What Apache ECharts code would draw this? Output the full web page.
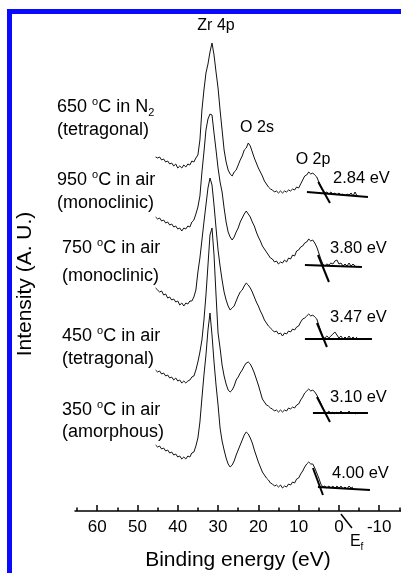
<!DOCTYPE html>
<html><head><meta charset="utf-8">
<script src="https://cdn.jsdelivr.net/npm/echarts@6/dist/echarts.min.js"></script>
<style>
html,body{margin:0;padding:0;background:#fff;}
#c{position:absolute;left:0;top:0;width:401px;height:573px;}
#frame{position:absolute;left:7px;top:9px;width:394px;height:564px;border-left:5px solid #0a0aff;border-top:5px solid #0a0aff;box-sizing:border-box;pointer-events:none;}
</style></head><body>
<div id="c"></div><div id="frame"></div>
<script>
// Binding energy grid (eV)
const energies = [45.5,45,44.5,44,43.5,43,42.5,42,41.5,41,40.5,40,39.5,39,38.5,38,37.5,37,36.5,36,
35.5,35,34.5,34,33.5,33,32.5,32,31.5,31,30.5,30,29.5,29,28.5,28,27.5,27,26.5,26,
25.5,25,24.5,24,23.5,23,22.5,22,21.5,21,20.5,20,19.5,19,18.5,18,17.5,17,16.5,16,
15.5,15,14.5,14,13.5,13,12.5,12,11.5,11,10.5,10,9.5,9,8.5,8,7.5,7,6.5,6,
5.5,5,4.5,4,3.5,3,2.5,2,1.5,1,0.5,0,-0.5,-1,-1.5,-2,-2.5,-3,-3.5,-4,-4.5];

// Intensities (A.U., stacked with offsets)
const n2_650 = [354,353,354,351,352,349,350,347,348,345,347,343,345,343,346,344,347,346,350,349,
353,356,371,401,421,438,447,459,468,456,439,423,401,381,361,349,341,337,335,339,
341,346,351,355,361,363,368,365,359,353,348,343,339,335,330,327,324,322,321,319,
320,318,320,318,320,319,321,320,322,321,324,323,327,331,335,336,339,337,338,336,
334,329,324,320,318,319,317,319,317,318,316,318,316,317,315,317,316,318,315,319,315];
const air_950 = [294,292,293,290,291,288,289,286,287,284,285,282,283,280,283,282,285,284,289,291,
297,304,315,339,359,381,392,397,396,378,361,343,329,319,303,289,279,274,271,274,
279,283,289,293,297,300,297,294,289,285,279,274,270,265,262,259,256,253,252,249,
250,247,249,248,251,249,253,252,256,255,260,261,264,265,268,269,272,270,271,268,
264,258,252,247,245,247,246,248,247,250,251,247,248,245,247,245,248,245,247,245,null];
const air_750 = [223,221,219,220,216,217,213,214,211,212,209,210,206,208,205,208,207,210,210,214,
221,239,253,271,289,306,323,333,326,306,283,261,245,231,219,211,205,201,203,205,
210,215,219,221,225,228,226,223,219,214,209,205,200,196,191,188,185,183,181,179,
180,177,178,175,178,177,180,179,182,181,184,185,189,192,193,195,197,195,196,194,
192,186,180,174,173,175,173,175,177,179,176,173,175,172,174,172,175,172,174,172,174];
const air_450 = [141,139,140,137,138,135,136,133,134,131,133,130,131,128,130,128,130,131,134,135,
141,149,159,171,191,216,246,276,283,256,216,178,163,146,135,127,121,119,121,125,
131,134,138,141,145,148,149,147,143,138,132,126,119,112,109,106,105,103,102,100,
101,99,101,99,101,100,103,102,104,103,106,107,111,114,118,120,122,120,121,119,
116,112,108,103,99,98,100,97,99,97,99,97,100,97,99,97,100,97,99,97,98];
const air_350 = [66,64,65,62,63,60,61,58,59,56,57,54,55,52,54,52,55,54,58,59,
65,73,89,113,136,156,181,198,176,149,126,106,83,70,61,53,47,44,46,50,
56,61,66,71,76,79,77,73,68,61,55,49,44,39,36,33,31,28,27,25,
26,24,26,23,25,24,27,26,29,28,32,33,37,40,44,47,49,47,47,43,
38,33,27,24,25,23,25,23,25,22,25,23,25,22,24,22,25,23,24,null,null];

// Band-edge fit lines: [E, I] end points
const fitBaseline = [
  [[7.94,319],[-7.2,314]],
  [[8.44,246],[-5.7,244]],
  [[8.44,172],[-8.19,172]],
  [[6.45,98],[-7.2,98]],
  [[5.21,24],[-7.69,21]]
];
const fitEdge = [
  [[5.13,329],[2.23,308]],
  [[5.2,256],[2.48,229]],
  [[5.46,188],[2.98,164]],
  [[5.46,114],[2.23,89]],
  [[6.45,43],[3.97,16]]
];
const gapLabels = ['2.84 eV','3.80 eV','3.47 eV','3.10 eV','4.00 eV'];
const sampleLabels = [
  ['650 {s|o}C in N{b|2}','(tetragonal)'],
  ['950 {s|o}C in air','(monoclinic)'],
  ['750 {s|o}C in air','(monoclinic)'],
  ['450 {s|o}C in air','(tetragonal)'],
  ['350 {s|o}C in air','(amorphous)']
];
const peakLabels = ['Zr 4p','O 2s','O 2p'];
const majorTicks = [60,50,40,30,20,10,0,-10];
const minorTicks = [65,55,45,35,25,15,5,-5,-15];
const xTitle = 'Binding energy (eV)';
const yTitle = 'Intensity (A. U.)';

const FONT = '"Liberation Sans", Arial, Helvetica, sans-serif';
const curves = [n2_650, air_950, air_750, air_450, air_350];

const series = [];
curves.forEach(vals => {
  series.push({
    type:'line', xAxisIndex:0, yAxisIndex:0, symbol:'none', silent:true,
    lineStyle:{color:'#111', width:1},
    data: energies.map((e,i)=> vals[i]==null ? null : [e, vals[i]]).filter(p=>p)
  });
});
fitBaseline.concat(fitEdge).forEach(seg => {
  series.push({type:'line', symbol:'none', silent:true, lineStyle:{color:'#000', width:2}, data: seg});
});

const chart = echarts.init(document.getElementById('c'), null, {renderer:'canvas'});

// label layout
const sampleX = [57,57,62,62,62];
const sampleY = [[107,130],[180,203],[248,276],[336,359],[410,432]];
const gapPos = [[333,178],[330,248],[330,317],[330,397],[332,473]];
const peakPos = [[216,26],[257,128],[313,160]];

const graphics = [];
sampleLabels.forEach((pair,k)=>{
  pair.forEach((t,j)=>{
    graphics.push({type:'text', x:sampleX[k], y:sampleY[k][j], silent:true, style:{
      text:t, fontSize:18, fontFamily:FONT, fill:'#000', align:'left', verticalAlign:'middle', lineHeight:22,
      rich:{ s:{fontSize:11, lineHeight:11, verticalAlign:'top', fontFamily:FONT, fill:'#000'},
             b:{fontSize:11, lineHeight:11, verticalAlign:'bottom', fontFamily:FONT, fill:'#000'} }
    }});
  });
});
gapLabels.forEach((t,k)=>{
  graphics.push({type:'text', x:gapPos[k][0], y:gapPos[k][1], silent:true, style:{text:t, fontSize:16.5, fontFamily:FONT, fill:'#000', align:'left', verticalAlign:'middle'}});
});
peakLabels.forEach((t,k)=>{
  graphics.push({type:'text', x:peakPos[k][0], y:peakPos[k][1], silent:true, style:{text:t, fontSize:16, fontFamily:FONT, fill:'#000', align:'center', verticalAlign:'middle'}});
});
graphics.push({type:'text', x:238, y:560, silent:true, style:{text:xTitle, fontSize:21, fontFamily:FONT, fill:'#000', align:'center', verticalAlign:'middle'}});
graphics.push({type:'text', x:25, y:284, rotation:Math.PI/2, silent:true, style:{text:yTitle, fontSize:21, fontFamily:FONT, fill:'#000', align:'center', verticalAlign:'middle'}});

chart.setOption({
  animation:false,
  backgroundColor:'#fff',
  grid:{left:75, right:0, top:14, bottom:62, containLabel:false},
  xAxis:[
    {type:'value', min:-15.4, max:65.5, inverse:true, position:'bottom',
     axisLine:{show:true, lineStyle:{color:'#000', width:1.5}},
     axisTick:{show:true, inside:true, length:6, customValues:majorTicks, lineStyle:{color:'#000', width:1.5}},
     axisLabel:{show:true, customValues:majorTicks, fontSize:17, color:'#000', fontFamily:FONT, margin:8},
     splitLine:{show:false}},
    {type:'value', min:-15.4, max:65.5, inverse:true, position:'bottom', gridIndex:0,
     axisLine:{show:false},
     axisTick:{show:true, inside:true, length:3.5, customValues:minorTicks, lineStyle:{color:'#000', width:1.5}},
     axisLabel:{show:false}, splitLine:{show:false}}
  ],
  yAxis:{type:'value', min:0, max:497, show:false},
  series: series,
  graphic: graphics
});

// Fermi level marker below the axis at E = 0
const x0 = chart.convertToPixel({xAxisIndex:0}, 0);
chart.setOption({graphic: graphics.concat([
  {type:'line', silent:true, shape:{x1:x0+2, y1:514, x2:x0+13, y2:528}, style:{stroke:'#000', lineWidth:1.5}},
  {type:'text', x:x0+11, y:542, silent:true, style:{text:'E{f|f}', fontSize:16, fontFamily:FONT, fill:'#000', align:'left', verticalAlign:'middle', lineHeight:20,
    rich:{f:{fontSize:10, lineHeight:10, verticalAlign:'bottom', fontFamily:FONT, fill:'#000'}}}}
])}, {replaceMerge:['graphic']});
</script>
</body></html>
